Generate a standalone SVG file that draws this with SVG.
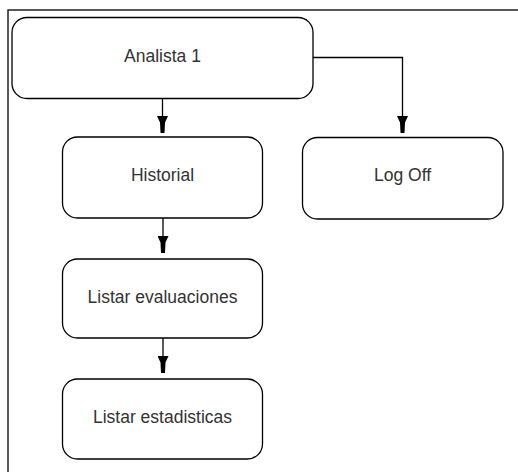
<svg xmlns="http://www.w3.org/2000/svg" width="518" height="472" viewBox="0 0 518 472">
<defs>
<style>
.box{fill:#fff;stroke:#000;stroke-width:1.3}
.lbl{font-family:"Liberation Sans",Arial,sans-serif;font-size:17.5px;fill:#333;text-anchor:middle}
.edge{fill:none;stroke:#000;stroke-width:1.3}
.frame{fill:none;stroke:#222;stroke-width:1.5}
</style>
<marker id="arr" viewBox="0 0 17 11" refX="17" refY="5.5" markerWidth="17" markerHeight="11" markerUnits="userSpaceOnUse" orient="auto">
<path d="M0,0 L0,11 L6.5,8 L17,7.5 L17,3.5 L6.5,3 Z" fill="#000"/>
</marker>
</defs>
<rect width="518" height="472" fill="#fff"/>
<path class="frame" d="M8,472 L8,10 L518,10"/>
<g id="connectors">
<path class="edge" marker-end="url(#arr)" d="M162.5,98.5 L162.5,133"/>
<path class="edge" marker-end="url(#arr)" d="M313,57.5 L402.5,57.5 L402.5,133"/>
<path class="edge" marker-end="url(#arr)" d="M163,218 L163,253"/>
<path class="edge" marker-end="url(#arr)" d="M163,338 L163,373"/>
</g>
<g id="analista">
<rect class="box" x="12" y="17.5" width="301" height="81" rx="15" ry="15"/>
<text class="lbl" x="162.5" y="61.5">Analista 1</text>
</g>
<g id="historial">
<rect class="box" x="62.5" y="137" width="200" height="81" rx="15" ry="15"/>
<text class="lbl" x="162.5" y="181">Historial</text>
</g>
<g id="logoff">
<rect class="box" x="302.5" y="137.5" width="200.5" height="81.5" rx="15" ry="15"/>
<text class="lbl" x="402.5" y="181">Log Off</text>
</g>
<g id="listar-evaluaciones">
<rect class="box" x="62.5" y="259" width="200" height="79" rx="15" ry="15"/>
<text class="lbl" x="162.5" y="302.5">Listar evaluaciones</text>
</g>
<g id="listar-estadisticas">
<rect class="box" x="62.5" y="379" width="200" height="80" rx="15" ry="15"/>
<text class="lbl" x="162.5" y="422.5">Listar estadisticas</text>
</g>
</svg>
